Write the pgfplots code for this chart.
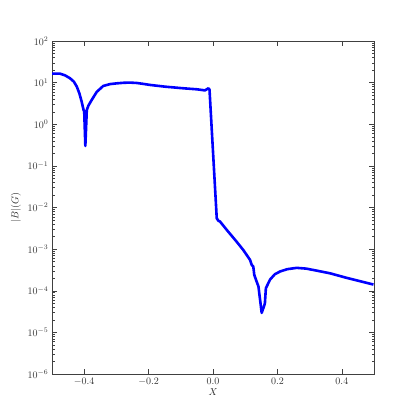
\documentclass[border=0pt]{standalone}
\usepackage{pgfplots}
\pgfplotsset{compat=1.18}

\begin{document}
\begin{tikzpicture}
\begin{axis}[
    scale only axis,
    width=322pt, height=333pt,
    xmin=-0.5, xmax=0.5,
    ymode=log, ymin=1e-6, ymax=1e2,
    xtick={-0.4,-0.2,0,0.2,0.4},
    ytick={1e-6,1e-5,1e-4,1e-3,1e-2,1e-1,1e0,1e1,1e2},
    xticklabel style={/pgf/number format/.cd, fixed, fixed zerofill, precision=1},
    tick align=inside,
    major tick length=5pt, minor tick length=2.5pt,
    axis line style={black!75},
    every tick/.style={black!75},
    tick label style={black!80},
    label style={black!85},
    xlabel={$X$}, ylabel={$|B|(G)$},
    xlabel style={yshift=3pt},
    clip=true,
]
\addplot[blue, line width=2.6pt, line join=round] coordinates {
(-0.500,16.5) (-0.475,16.4) (-0.460,15.0) (-0.444,12.7) (-0.432,10.5)
(-0.423,8.0) (-0.415,5.5) (-0.408,3.5) (-0.402,2.2) (-0.400,2.0)
(-0.3965,0.30) (-0.392,2.2) (-0.387,2.8) (-0.377,3.8) (-0.361,6.0)
(-0.341,8.3) (-0.320,9.2) (-0.299,9.6) (-0.278,9.9) (-0.258,10.0)
(-0.237,9.8) (-0.216,9.3) (-0.196,8.8) (-0.150,8.0) (-0.092,7.3)
(-0.050,6.9) (-0.025,6.5) (-0.0145,7.3) (-0.011,6.8)
(0.0115,0.0055) (0.0165,0.0048) (0.0217,0.0046) (0.0425,0.0029)
(0.0735,0.0015) (0.094,0.00095) (0.115,0.00055) (0.120,0.00042)
(0.125,0.00038) (0.128,0.00024) (0.141,0.000126) (0.151,0.0000295)
(0.158,0.000042) (0.161,0.00005) (0.164,0.000115) (0.177,0.000186)
(0.192,0.00025) (0.208,0.00029) (0.230,0.00033) (0.260,0.000355)
(0.290,0.00034) (0.311,0.000316) (0.363,0.000263) (0.415,0.000204)
(0.498,0.000141)
};
\coordinate (bl) at (rel axis cs:-0.1615,-0.123);
\coordinate (tr) at (rel axis cs:1.127,1.123);
\end{axis}
\path (bl) rectangle (tr);
\end{tikzpicture}
\end{document}
